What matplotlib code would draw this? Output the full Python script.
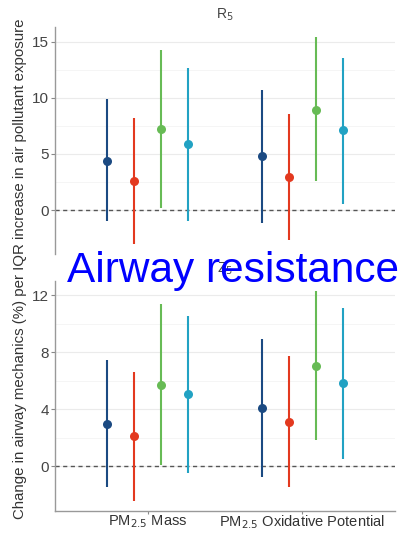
import matplotlib
matplotlib.use("Agg")
import matplotlib.pyplot as plt
import numpy as np

# values (estimate, % change per IQR)
groups = ["PM$_{2.5}$ Mass", "PM$_{2.5}$ Oxidative Potential"]
colors = ["#1B4A82", "#E3391F", "#67BB55", "#22A2C3"]

r5_est = [[4.4, 2.6, 7.25, 5.85], [4.8, 2.95, 8.95, 7.1]]
r5_lo = [[-1.0, -3.0, 0.15, -0.95], [-1.2, -2.7, 2.55, 0.55]]
r5_hi = [[9.9, 8.2, 14.3, 12.7], [10.7, 8.6, 15.4, 13.6]]

z5_est = [[2.98, 2.09, 5.68, 5.03], [4.08, 3.1, 7.02, 5.8]]
z5_lo = [[-1.48, -2.41, 0.05, -0.47], [-0.73, -1.48, 1.86, 0.52]]
z5_hi = [[7.44, 6.58, 11.37, 10.5], [8.9, 7.73, 12.25, 11.08]]

offsets = [-0.2625, -0.0875, 0.0875, 0.2625]

plt.rcParams["font.family"] = ["Liberation Sans", "DejaVu Sans"]

W, H = 411, 533
fig = plt.figure(figsize=(W / 100, H / 100), dpi=100)


def box(l, t, r, b):
    return [l / W, 1 - b / H, (r - l) / W, (b - t) / H]


def panel(ax, est, lo, hi, title, major, minor, bottom):
    for gi in range(len(groups)):
        for k in range(4):
            x = gi + 1 + offsets[k]
            ax.plot([x, x], [lo[gi][k], hi[gi][k]], color=colors[k], lw=1.5,
                    solid_capstyle="butt", zorder=3)
            ax.plot(x, est[gi][k], "o", color=colors[k], ms=6.5, mew=0, zorder=4)
    ax.axhline(0, color="#555555", lw=1.0, ls=(0, (3, 2.5)), zorder=2)
    for v in major:
        ax.axhline(v, color="#EBEBEB", lw=0.8, zorder=1)
    for v in minor:
        ax.axhline(v, color="#F4F4F4", lw=0.6, zorder=1)
    ax.set_xlim(0.4, 2.6)
    ax.margins(y=0.05)
    ax.set_yticks(major)
    ax.set_yticklabels([str(v) for v in major])
    ax.tick_params(axis="y", colors="#888888", labelcolor="#444444",
                   labelsize=11, length=3, width=0.8, pad=1.5)
    for s in ["top", "right"]:
        ax.spines[s].set_visible(False)
    ax.spines["left"].set_color("#999999")
    ax.spines["left"].set_linewidth(1.0)
    if bottom:
        ax.spines["bottom"].set_color("#999999")
        ax.spines["bottom"].set_linewidth(1.0)
        ax.set_xticks([1, 2])
        ax.set_xticklabels(groups)
        ax.tick_params(axis="x", colors="#888888", labelcolor="#333333",
                       labelsize=10.5, length=2.5, width=0.8, pad=-0.5)
    else:
        ax.spines["bottom"].set_visible(False)
        ax.set_xticks([])
    ax.set_title(title, fontsize=10, color="#444444", pad=6)


ax1 = fig.add_axes(box(55, 27, 395, 254))
panel(ax1, r5_est, r5_lo, r5_hi, "R$_5$", [0, 5, 10, 15], [2.5, 7.5, 12.5], False)

ax2 = fig.add_axes(box(55, 281, 395, 511))
panel(ax2, z5_est, z5_lo, z5_hi, "Z$_5$", [0, 4, 8, 12], [2, 6, 10], True)

fig.text(20 / W, 1 - 269 / H,
         "Change in airway mechanics (%) per IQR increase in air pollutant exposure",
         rotation=90, ha="center", va="center", fontsize=10.8, color="#333333")

fig.text(67 / W, 1 - 282 / H, "Airway resistance", ha="left", va="baseline",
         fontsize=30.5, color="#0000FF")

fig.savefig("out.png", dpi=100)
